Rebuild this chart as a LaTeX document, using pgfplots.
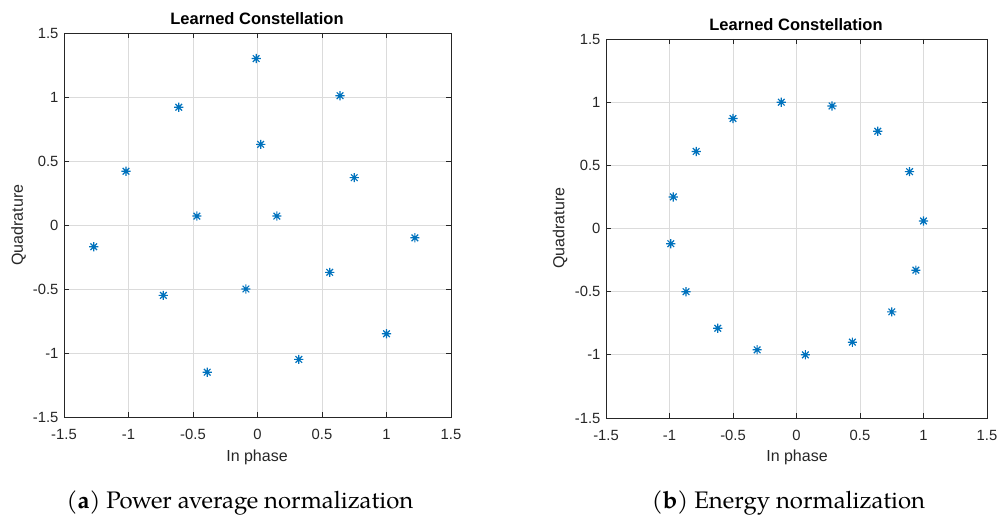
\documentclass[border=0pt]{standalone}
\usepackage{pgfplots}
\pgfplotsset{compat=1.18}
\usepackage{fontspec}
\setmainfont{texgyrepagella}[Extension=.otf,UprightFont=*-regular,BoldFont=*-bold,ItalicFont=*-italic,BoldItalicFont=*-bolditalic]
\newfontfamily\arial{Liberation Sans}
\definecolor{mblue}{RGB}{0,114,189}
\definecolor{mgray}{RGB}{38,38,38}
\pgfdeclareplotmark{mstar}{%
  \pgfpathmoveto{\pgfqpoint{-\pgfplotmarksize}{0pt}}\pgfpathlineto{\pgfqpoint{\pgfplotmarksize}{0pt}}%
  \pgfpathmoveto{\pgfqpoint{0pt}{-\pgfplotmarksize}}\pgfpathlineto{\pgfqpoint{0pt}{\pgfplotmarksize}}%
  \pgfpathmoveto{\pgfqpoint{-0.72\pgfplotmarksize}{-0.72\pgfplotmarksize}}\pgfpathlineto{\pgfqpoint{0.72\pgfplotmarksize}{0.72\pgfplotmarksize}}%
  \pgfpathmoveto{\pgfqpoint{-0.72\pgfplotmarksize}{0.72\pgfplotmarksize}}\pgfpathlineto{\pgfqpoint{0.72\pgfplotmarksize}{-0.72\pgfplotmarksize}}%
  \pgfusepathqstroke}
\pgfplotsset{
  mat/.style={
    scale only axis,
    xmin=-1.5,xmax=1.5,ymin=-1.5,ymax=1.5,
    xtick={-1.5,-1,-0.5,0,0.5,1,1.5},
    ytick={-1.5,-1,-0.5,0,0.5,1,1.5},
    xticklabels={-1.5,-1,-0.5,0,0.5,1,1.5},
    yticklabels={-1.5,-1,-0.5,0,0.5,1,1.5},
    tick label style={font=\arial\fontsize{14.8}{16}\selectfont, text=mgray},
    xticklabel style={yshift=-9pt},
    yticklabel style={xshift=-2pt},
    grid=major,
    major grid style={black!14, line width=0.7pt},
    axis line style={mgray, line width=0.9pt},
    tick style={mgray, line width=0.8pt},
    tick align=inside,
    major tick length=5pt,
    xtick pos=both, ytick pos=both,
    clip=false,
  },
  pts/.style={only marks, mark=mstar, mark size=4.6pt, mblue, line width=1.2pt},
}
\begin{document}
\begin{tikzpicture}[x=1pt,y=1pt]
\useasboundingbox (0,0) rectangle (998,516);
\begin{axis}[mat, at={(64pt,99pt)}, anchor=south west, width=387pt, height=384pt]
\addplot[pts] coordinates {
(-0.01,1.30) (0.64,1.01) (-0.61,0.92) (0.025,0.63) (-1.02,0.42) (0.75,0.37)
(-0.47,0.07) (0.15,0.07) (1.22,-0.10) (-1.27,-0.17) (-0.73,-0.55) (-0.09,-0.50)
(0.56,-0.37) (1.00,-0.85) (0.32,-1.05) (-0.39,-1.15)
};
\end{axis}
\begin{axis}[mat, at={(606pt,98pt)}, anchor=south west, width=381pt, height=379pt]
\addplot[pts] coordinates {
(-0.12,1.00) (0.28,0.97) (-0.50,0.87) (0.64,0.77) (-0.79,0.61) (0.89,0.45)
(-0.97,0.25) (1.00,0.06) (-0.99,-0.12) (-0.87,-0.50) (0.94,-0.33) (0.75,-0.66)
(-0.62,-0.79) (0.44,-0.90) (-0.31,-0.96) (0.07,-1.00)
};
\end{axis}
\node[font=\arial\bfseries\fontsize{16.5}{18}\selectfont] at (257,497) {Learned Constellation};
\node[font=\arial\bfseries\fontsize{16.5}{18}\selectfont] at (796,491) {Learned Constellation};
\node[font=\arial\fontsize{16}{18}\selectfont, text=mgray, rotate=90] at (18.5,291) {Quadrature};
\node[font=\arial\fontsize{16}{18}\selectfont, text=mgray, rotate=90] at (560,288) {Quadrature};
\node[font=\arial\fontsize{16}{18}\selectfont, text=mgray] at (257,59) {In phase};
\node[font=\arial\fontsize{16}{18}\selectfont, text=mgray] at (797,59) {In phase};
\node[font=\fontsize{23.9}{26}\selectfont, anchor=base] at (240,7) {(\textbf{a}) Power average normalization};
\node[font=\fontsize{23.9}{26}\selectfont, anchor=base] at (788.5,7) {(\textbf{b}) Energy normalization};
\end{tikzpicture}
\end{document}
